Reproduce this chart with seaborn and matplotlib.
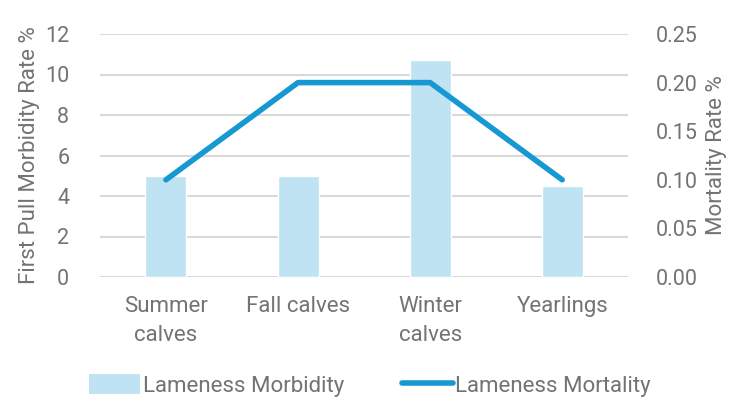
#! /usr/bin/env python3
# coding: utf-8
"""
Lameness morbidity (bars) and mortality (line) per cattle group, dual y-axis.
"""
import numpy as np
import pandas as pd
import matplotlib.pyplot as plt
import seaborn as sb
from matplotlib.patches import Patch
from matplotlib.lines import Line2D

groups = ['Summer\ncalves', 'Fall calves', 'Winter\ncalves', 'Yearlings']
morbidity = [5.0, 5.0, 10.7, 4.5]
mortality = [0.10, 0.20, 0.20, 0.10]

BAR_COLOR = '#C0E3F3'
LINE_COLOR = '#1699D3'
TEXT_COLOR = '#737373'
GRID_COLOR = '#D9D9D9'

if __name__ == '__main__':
    sb.set_style('white')
    plt.rcParams['font.family'] = ['Roboto', 'DejaVu Sans']

    data = pd.DataFrame({'group': groups, 'morbidity': morbidity,
                         'mortality': mortality})

    fig, ax = plt.subplots(figsize=(7.4, 4), dpi=100)
    fig.subplots_adjust(left=0.135, right=0.849, top=0.915, bottom=0.3075)

    sb.barplot(data=data, x='group', y='morbidity', color=BAR_COLOR,
               saturation=1, width=0.31, ax=ax, zorder=2)
    ax.set_ylim(0, 12)
    ax.set_yticks(np.arange(0, 13, 2))
    ax.grid(axis='y', color=GRID_COLOR, linewidth=1.5, zorder=0)
    ax.set_axisbelow(True)

    ax2 = ax.twinx()
    sb.lineplot(x=np.arange(len(groups)), y=data['mortality'], color=LINE_COLOR,
                linewidth=4, solid_capstyle='round', ax=ax2, sort=False)
    ax2.set_ylim(0, 0.25)
    ax2.set_yticks(np.arange(0, 0.26, 0.05))
    ax2.set_yticklabels([f'{v:.2f}' for v in np.arange(0, 0.26, 0.05)])

    for a in [ax, ax2]:
        for s in a.spines.values():
            s.set_visible(False)
        a.tick_params(length=0, colors=TEXT_COLOR, labelsize=15.5)
    ax.tick_params(axis='x', pad=14, labelsize=16)
    for lbl in ax.get_xticklabels():
        lbl.set_linespacing(1.45)
    ax.tick_params(axis='y', pad=22)
    ax2.tick_params(axis='y', pad=20)

    ax.set_xlabel('')
    ax.set_ylabel('First Pull Morbidity Rate %', color=TEXT_COLOR, fontsize=16, labelpad=4)
    ax2.set_ylabel('Mortality Rate %', color=TEXT_COLOR, fontsize=16, labelpad=6,
                   rotation=90)
    ax.set_xlim(-0.5, 3.5)

    handles = [Patch(facecolor=BAR_COLOR, edgecolor='none'),
               Line2D([0], [0], color=LINE_COLOR, linewidth=4)]
    fig.legend(handles, ['Lameness Morbidity', 'Lameness Mortality'],
               loc='lower center', bbox_to_anchor=(0.5, -0.042), ncol=2,
               frameon=False, fontsize=16, labelcolor=TEXT_COLOR,
               handlelength=2.3, handleheight=1.0, handletextpad=0.1,
               columnspacing=2.6)

    fig.savefig('out.png', dpi=100)
